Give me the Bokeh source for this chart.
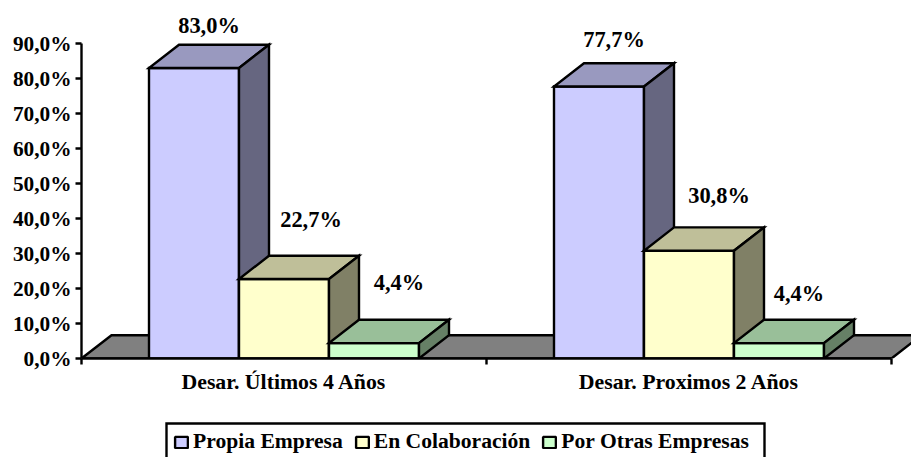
from bokeh.plotting import figure
from bokeh.layouts import column
from bokeh.models import Range1d, FixedTicker, Legend, LegendItem, ColumnDataSource
from bokeh.core.properties import value
from bokeh.embed import file_html
from bokeh.resources import INLINE

categories = ["Desar. Últimos 4 Años", "Desar. Proximos 2 Años"]
series_names = ["Propia Empresa", "En Colaboración", "Por Otras Empresas"]
propia = [83.0, 77.7]
colaboracion = [22.7, 30.8]
otras = [4.4, 4.4]
y_ticks = [0, 10, 20, 30, 40, 50, 60, 70, 80, 90]
y_labels = ["0,0%", "10,0%", "20,0%", "30,0%", "40,0%", "50,0%", "60,0%", "70,0%", "80,0%", "90,0%"]
value_labels = [["83,0%", "77,7%"], ["22,7%", "30,8%"], ["4,4%", "4,4%"]]

front = ["#CCCCFF", "#FFFFCC", "#CCFFCC"]
top = ["#9999BF", "#BFBF99", "#99BF99"]
side = ["#666680", "#808066", "#668066"]
FONT = "Liberation Serif"
LW = 2.4

# layout, in pixels of the picture
W, H_MAIN, H_LEG = 911, 405, 52
AX_L, AX_R = 81, 891
Y0, Y90 = 358, 43
DEPTH_X, DEPTH_Y = 30, 23.3
cat_px = (AX_R - AX_L) / 2
px_x = 1 / cat_px
px_y = 90 / (Y0 - Y90)
dx = DEPTH_X * px_x
dy = DEPTH_Y * px_y
bar_w = 1 / 4.5
gap = bar_w * 0.75

x_end = (W - AX_L) * px_x
y_end = Y0 * px_y

p = figure(width=W, height=H_MAIN, output_backend="svg", toolbar_location=None,
           x_range=Range1d(0, x_end), y_range=Range1d(0, y_end),
           min_border_left=AX_L, min_border_right=0, min_border_top=0,
           min_border_bottom=H_MAIN - Y0, outline_line_color=None,
           background_fill_color="white", border_fill_color="white")
p.grid.visible = False

p.patch([0, dx, 2 + dx, 2], [0, dy, dy, 0], fill_color="#808080", line_color="black",
        line_width=LW, line_join="miter")

series = [propia, colaboracion, otras]
for c in range(2):
    for s, vals in enumerate(series):
        v = vals[c]
        x0 = c + gap + s * bar_w
        x1 = x0 + bar_w
        p.patch([x0, x1, x1, x0], [0, 0, v, v], fill_color=front[s], line_color="black",
                line_width=LW, line_join="miter")
        p.patch([x0, x1, x1 + dx, x0 + dx], [v, v, v + dy, v + dy], fill_color=top[s],
                line_color="black", line_width=LW, line_join="miter")
        p.patch([x1, x1 + dx, x1 + dx, x1], [0, dy, v + dy, v], fill_color=side[s],
                line_color="black", line_width=LW, line_join="miter")

nudge_x = [[15, 15], [27, 30], [25, 20]]
nudge_y = [[43, 47], [60, 55], [61, 50]]
for s, vals in enumerate(series):
    src = ColumnDataSource(dict(
        x=[c + gap + (s + 0.5) * bar_w for c in range(2)],
        y=vals,
        t=value_labels[s],
        xo=nudge_x[s],
        yo=[-n for n in nudge_y[s]],
    ))
    p.text(x="x", y="y", text="t", x_offset="xo", y_offset="yo", source=src,
           text_font=value(FONT), text_font_style="bold", text_font_size="22.4px",
           text_align="center", text_baseline="middle", text_color="black")

ya = p.yaxis[0]
ya.ticker = FixedTicker(ticks=y_ticks)
ya.major_label_overrides = {t: l for t, l in zip(y_ticks, y_labels)}
ya.bounds = (0, 90)
ya.axis_line_width = LW
ya.major_tick_line_width = LW
ya.major_tick_in = 0
ya.major_tick_out = 6
ya.minor_tick_line_color = None
ya.major_label_text_font = FONT
ya.major_label_text_font_style = "bold"
ya.major_label_text_font_size = "21.3px"
ya.major_label_text_color = "black"
ya.major_label_standoff = 4

xa = p.xaxis[0]
xa.ticker = FixedTicker(ticks=[0.5, 1.5], minor_ticks=[0, 1, 2])
xa.major_label_overrides = {0.5: categories[0], 1.5: categories[1]}
xa.bounds = (0, 2)
xa.axis_line_width = LW
xa.major_tick_line_color = None
xa.major_tick_in = 0
xa.major_tick_out = 0
xa.minor_tick_line_width = LW
xa.minor_tick_in = 0
xa.minor_tick_out = 6
xa.major_label_text_font = FONT
xa.major_label_text_font_style = "bold"
xa.major_label_text_font_size = "21.8px"
xa.major_label_text_color = "black"
xa.major_label_standoff = 5

# legend figure: the column aligns its frame with the main frame, so its x range runs AX_L..W
leg = figure(width=W, height=H_LEG, output_backend="svg", toolbar_location=None,
             x_range=Range1d(AX_L, W), y_range=Range1d(0, H_LEG),
             min_border=0, outline_line_color=None, x_axis_location=None, y_axis_location=None,
             background_fill_color="white", border_fill_color="white")
leg.grid.visible = False
leg.quad(left=[166], right=[764], top=[H_LEG - 18], bottom=[-6], fill_color="white",
         line_color="black", line_width=LW, line_join="miter")
items = []
for s, name in enumerate(series_names):
    r = leg.quad(left=[-50], right=[-40], top=[-50], bottom=[-60], fill_color=front[s],
                 line_color="black", line_width=LW)
    items.append(LegendItem(label=name, renderers=[r]))
legend = Legend(items=items, orientation="horizontal", location=(92, 3),
                label_text_font=FONT, label_text_font_style="bold", label_text_font_size="21.6px",
                label_text_color="black", label_standoff=4, spacing=11,
                glyph_width=16, glyph_height=14, label_height=14,
                padding=6, margin=0, border_line_color=None,
                background_fill_alpha=0)
leg.add_layout(legend, "center")

open("out.html", "w").write(file_html(column(p, leg, spacing=0), INLINE))
